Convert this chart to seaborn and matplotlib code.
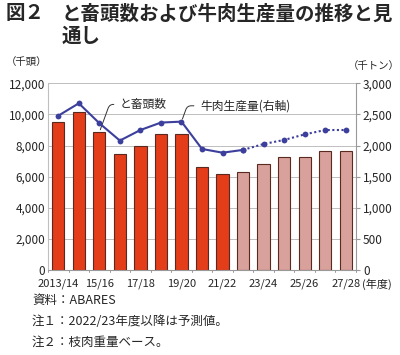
import numpy as np
import pandas as pd
import matplotlib
matplotlib.use("Agg")
import matplotlib.pyplot as plt
import seaborn as sns

# データ
years = ["2013/14", "14/15", "15/16", "16/17", "17/18", "18/19", "19/20", "20/21",
         "21/22", "22/23", "23/24", "24/25", "25/26", "26/27", "27/28"]
slaughter = [9500, 10150, 8850, 7450, 7950, 8750, 8750, 6650,
             6150, 6300, 6800, 7280, 7240, 7650, 7650]          # 千頭
beef = [2480, 2680, 2360, 2080, 2250, 2370, 2385, 1945,
        1885, 1930, 2025, 2090, 2180, 2250, 2250]                # 千トン
status = ["実績"] * 9 + ["予測"] * 6
tick_labels = ["2013/14", "", "15/16", "", "17/18", "", "19/20", "",
               "21/22", "", "23/24", "", "25/26", "", "27/28"]

sns.set_style("white")
plt.rcParams["font.family"] = ["Noto Sans CJK JP", "DejaVu Sans"]

df = pd.DataFrame({"year": years, "head": slaughter, "beef": beef, "status": status})
df["pos"] = np.arange(len(df))

fig = plt.figure(figsize=(4.0, 3.55), dpi=100)
ax = fig.add_axes([0.12, 0.24, 0.77, 0.525])

sns.barplot(data=df, x="year", y="head", hue="status",
            palette={"実績": "#E33D1A", "予測": "#D9A19B"}, saturation=1,
            dodge=False, width=0.6, edgecolor="#5a2a20", linewidth=0.8,
            legend=False, ax=ax)

ax.set_ylim(0, 12000)
ax.set_yticks(range(0, 12001, 2000))
ax.set_yticklabels([f"{v:,}" for v in range(0, 12001, 2000)], fontsize=8.5)
ax.set_xlim(-0.5, len(years) - 0.5)
ax.set_xticks(np.arange(len(years)))
ax.set_xticklabels(tick_labels, fontsize=8)
ax.tick_params(axis="x", length=0, pad=6)
ax.tick_params(axis="y", length=0, pad=2)
ax.set_xlabel("")
ax.set_ylabel("")
ax.yaxis.grid(True, color="#bfbfbf", linewidth=0.7)
ax.set_axisbelow(True)
for s in ["top", "right"]:
    ax.spines[s].set_visible(False)
ax.spines["left"].set_color("#bfbfbf")
ax.spines["bottom"].set_color("#999999")
# 区切りの目盛り
for b in np.arange(-0.5, len(years), 1):
    ax.plot([b, b], [0, -150], color="#999999", lw=0.7, clip_on=False)

ax2 = ax.twinx()
solid = df[df["pos"] <= 9]
dotted = df[df["pos"] >= 9]
sns.lineplot(data=solid, x="pos", y="beef", color="#3C3F9B", lw=1.5,
             marker="o", markersize=4.2, markeredgewidth=0, ax=ax2)
sns.lineplot(data=dotted, x="pos", y="beef", color="#3C3F9B", lw=1.5,
             linestyle=(0, (1, 1.2)), marker="o", markersize=4.2,
             markeredgewidth=0, ax=ax2)
ax2.set_ylim(0, 3000)
ax2.set_yticks(range(0, 3001, 500))
ax2.set_yticklabels([f"{v:,}" for v in range(0, 3001, 500)], fontsize=8.5)
ax2.tick_params(axis="y", length=3, color="#999999", pad=2)
ax2.set_xlabel("")
ax2.set_ylabel("")
for s in ["top", "left", "bottom"]:
    ax2.spines[s].set_visible(False)
ax2.spines["right"].set_color("#999999")

# 注記
ax.annotate("と畜頭数", xy=(2, 8850), xytext=(3.0, 10650), fontsize=8.5,
            va="center", ha="left",
            arrowprops=dict(arrowstyle="-", color="#333333", lw=0.7,
                            connectionstyle="angle,angleA=0,angleB=70,rad=4"))
ax2.annotate("牛肉生産量(右軸)", xy=(6, 2385), xytext=(6.9, 2640), fontsize=8.5,
             va="center", ha="left",
             arrowprops=dict(arrowstyle="-", color="#333333", lw=0.7,
                             connectionstyle="angle,angleA=0,angleB=70,rad=4"))

# タイトルとテキスト
fig.text(0.015, 0.988, "図２", fontsize=14, fontweight="bold", va="top")
fig.text(0.155, 0.988, "と畜頭数および牛肉生産量の推移と見\n通し", fontsize=14,
         fontweight="bold", va="top", linespacing=1.2)
fig.text(0.015, 0.825, "（千頭）", fontsize=7.5, va="center")
fig.text(0.998, 0.815, "（千トン）", fontsize=7.5, va="center", ha="right")
fig.text(0.905, 0.2, "(年度)", fontsize=8, va="center")
fig.text(0.08, 0.155, "資料：ABARES", fontsize=9, va="center")
fig.text(0.08, 0.093, "注１：2022/23年度以降は予測値。", fontsize=9, va="center")
fig.text(0.08, 0.035, "注２：枝肉重量ベース。", fontsize=9, va="center")

fig.savefig("out.png", dpi=100)
